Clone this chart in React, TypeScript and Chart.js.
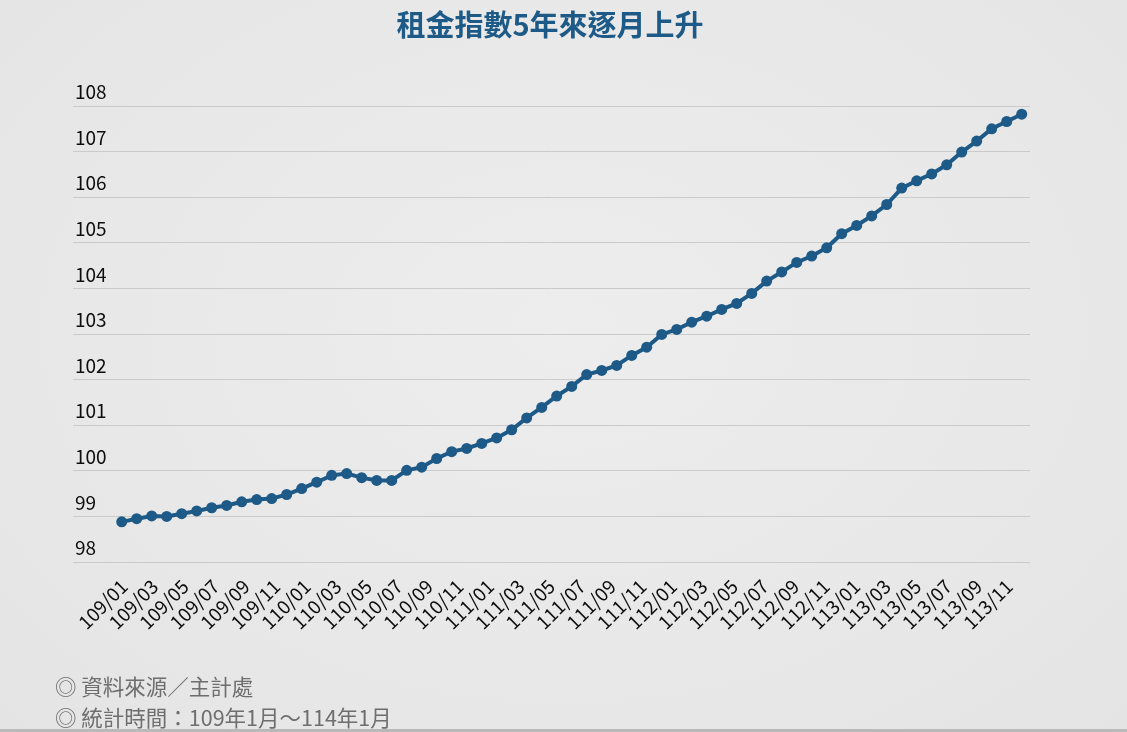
import React, { useEffect, useRef } from "react";
import { Chart, registerables } from "chart.js";

Chart.register(...registerables);

// 109/01 ... 114/01 (61 months)
const months: string[] = [
  "109/01", "109/02", "109/03", "109/04", "109/05", "109/06", "109/07", "109/08", "109/09", "109/10", "109/11", "109/12",
  "110/01", "110/02", "110/03", "110/04", "110/05", "110/06", "110/07", "110/08", "110/09", "110/10", "110/11", "110/12",
  "111/01", "111/02", "111/03", "111/04", "111/05", "111/06", "111/07", "111/08", "111/09", "111/10", "111/11", "111/12",
  "112/01", "112/02", "112/03", "112/04", "112/05", "112/06", "112/07", "112/08", "112/09", "112/10", "112/11", "112/12",
  "113/01", "113/02", "113/03", "113/04", "113/05", "113/06", "113/07", "113/08", "113/09", "113/10", "113/11", "113/12",
  "114/01",
];

const rentIndex: number[] = [
  98.88, 98.95, 99.01, 99.0, 99.06, 99.12, 99.19, 99.24, 99.32, 99.37, 99.39, 99.48,
  99.61, 99.75, 99.9, 99.94, 99.85, 99.79, 99.79, 100.01, 100.08, 100.27, 100.42, 100.49,
  100.6, 100.72, 100.9, 101.16, 101.39, 101.64, 101.85, 102.11, 102.2, 102.31, 102.53, 102.71,
  102.99, 103.1, 103.26, 103.39, 103.54, 103.67, 103.89, 104.16, 104.36, 104.57, 104.71, 104.89,
  105.2, 105.38, 105.59, 105.84, 106.2, 106.36, 106.51, 106.71, 106.99, 107.23, 107.5, 107.66,
  107.82,
];

const xTickLabels: string[] = [
  "109/01", "109/03", "109/05", "109/07", "109/09", "109/11",
  "110/01", "110/03", "110/05", "110/07", "110/09", "110/11",
  "111/01", "111/03", "111/05", "111/07", "111/09", "111/11",
  "112/01", "112/03", "112/05", "112/07", "112/09", "112/11",
  "113/01", "113/03", "113/05", "113/07", "113/09", "113/11",
];

const yTicks: number[] = [98, 99, 100, 101, 102, 103, 104, 105, 106, 107, 108];

const TITLE = "租金指數5年來逐月上升";
const NOTE_SOURCE = "◎ 資料來源／主計處";
const NOTE_PERIOD = "◎ 統計時間：109年1月～114年1月";

const FONT = '"Noto Sans CJK TC", "Noto Sans", sans-serif';
const BLUE = "#1d5a87";

export default function App() {
  const canvasRef = useRef<HTMLCanvasElement | null>(null);

  useEffect(() => {
    const canvas = canvasRef.current;
    if (!canvas) return;
    const points = rentIndex.map((v, i) => ({ x: i, y: v }));
    const chart = new Chart(canvas, {
      type: "line",
      data: {
        datasets: [
          {
            label: "租金指數",
            data: points,
            borderColor: BLUE,
            backgroundColor: BLUE,
            borderWidth: 4,
            pointRadius: 5.5,
            pointBackgroundColor: BLUE,
            pointBorderWidth: 0,
            tension: 0,
            xAxisID: "x",
            yAxisID: "y",
          },
        ],
      },
      options: {
        responsive: false,
        animation: false,
        devicePixelRatio: 1,
        layout: { padding: { left: 69, right: 97, top: 106, bottom: 0 } },
        plugins: {
          legend: { display: false },
          tooltip: { enabled: false },
          title: { display: false },
        },
        scales: {
          x: {
            type: "linear",
            display: false,
            min: -3.247,
            max: 60.553,
          },
          xl: {
            type: "linear",
            position: "bottom",
            min: -3.35,
            max: 59.37,
            grid: { display: false, drawTicks: false },
            border: { display: false },
            afterBuildTicks: (scale: any) => {
              scale.ticks = xTickLabels.map((l) => ({ value: months.indexOf(l) }));
            },
            afterFit: (scale: any) => {
              scale.height = 170;
            },
            ticks: {
              autoSkip: false,
              minRotation: 45,
              maxRotation: 45,
              padding: 13,
              color: "#0d0d0d",
              font: { family: FONT, size: 19 },
              callback: (value: any) => months[Math.round(Number(value))] ?? "",
            },
          },
          y: {
            type: "linear",
            min: yTicks[0],
            max: yTicks[yTicks.length - 1],
            afterBuildTicks: (scale: any) => {
              scale.ticks = yTicks.map((v) => ({ value: v }));
            },
            grid: { color: "#cbcbcb", lineWidth: 1, drawTicks: false },
            border: { display: false },
            ticks: {
              mirror: true,
              padding: 2,
              labelOffset: -14,
              color: "#0d0d0d",
              font: { family: FONT, size: 19 },
              callback: (value: any) => String(value),
            },
          },
        },
      },
    });
    return () => chart.destroy();
  }, []);

  return (
    <div
      style={{
        position: "fixed",
        left: 0,
        top: 0,
        width: 1127,
        height: 732,
        overflow: "hidden",
        background: "radial-gradient(ellipse at 50% 45%, #ededed 0%, #e8e8e8 60%, #e4e4e4 100%)",
        fontFamily: FONT,
      }}
    >
      <div
        style={{
          position: "absolute",
          left: 0,
          top: 4,
          width: 1100,
          textAlign: "center",
          fontSize: 29,
          fontWeight: 700,
          color: BLUE,
          lineHeight: "38px",
        }}
      >
        {TITLE}
      </div>
      <canvas
        ref={canvasRef}
        width={1127}
        height={732}
        style={{ position: "absolute", left: 0, top: 0, width: 1127, height: 732 }}
      />
      <div
        style={{
          position: "absolute",
          left: 55,
          top: 670,
          fontSize: 21.5,
          lineHeight: "31px",
          color: "#6e6e6e",
          whiteSpace: "nowrap",
        }}
      >
        <div>{NOTE_SOURCE}</div>
        <div>{NOTE_PERIOD}</div>
      </div>
      <div
        style={{
          position: "absolute",
          left: 0,
          bottom: 0,
          width: 1127,
          height: 3,
          background: "#b9b9b9",
        }}
      />
    </div>
  );
}
